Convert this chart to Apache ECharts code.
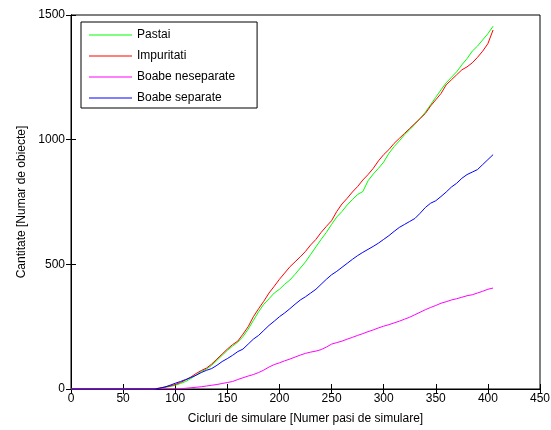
<!DOCTYPE html>
<html>
<head>
<meta charset="utf-8">
<script src="https://cdn.jsdelivr.net/npm/echarts@6/dist/echarts.min.js"></script>
<style>
  html, body { margin: 0; padding: 0; background: #fff; }
  #chart { width: 551px; height: 430px; }
</style>
</head>
<body>
<div id="chart"></div>
<script>
// simulation step (x) shared by all series
var steps = [0, 80, 85, 90, 95, 100, 105, 110, 115, 120, 125, 130, 135, 140, 145, 150, 155, 160, 165, 170,
  175, 180, 185, 190, 195, 200, 205, 210, 215, 220, 225, 230, 235, 240, 245, 250, 255, 260, 265, 270,
  275, 280, 285, 290, 295, 300, 305, 310, 315, 320, 325, 330, 335, 340, 345, 350, 355, 360, 365, 370,
  375, 380, 385, 390, 395, 400, 405];

var pastai = [0, 0, 3, 6, 10, 15, 22, 30, 42, 56, 70, 80, 95, 115, 135, 155, 172, 188, 210, 240,
  275, 310, 340, 362, 385, 400, 420, 437, 460, 485, 510, 540, 570, 600, 628, 660, 690, 712, 738, 760,
  780, 792, 835, 862, 885, 910, 945, 972, 995, 1020, 1040, 1062, 1085, 1110, 1140, 1170, 1200, 1228, 1250, 1272,
  1300, 1325, 1355, 1375, 1400, 1425, 1455];

var impuritati = [0, 0, 4, 8, 12, 18, 26, 36, 48, 62, 74, 84, 100, 120, 140, 160, 178, 192, 220, 250,
  290, 322, 352, 385, 412, 440, 465, 490, 510, 530, 552, 578, 600, 628, 652, 675, 712, 742, 765, 790,
  812, 838, 860, 885, 915, 940, 960, 985, 1005, 1025, 1045, 1065, 1085, 1105, 1135, 1160, 1185, 1220, 1240, 1260,
  1280, 1292, 1308, 1330, 1355, 1385, 1440];

var boabeNeseparate = [0, 0, 0, 0, 0, 0, 1, 3, 5, 7, 9, 12, 15, 18, 22, 26, 30, 38, 45, 52,
  58, 66, 76, 88, 98, 105, 113, 120, 128, 136, 143, 148, 152, 158, 168, 180, 186, 192, 200, 207,
  215, 222, 230, 237, 245, 252, 258, 265, 272, 280, 288, 298, 308, 318, 327, 335, 344, 350, 357, 362,
  368, 374, 378, 385, 392, 400, 405];

var boabeSeparate = [0, 0, 3, 8, 15, 23, 30, 38, 46, 55, 66, 75, 82, 95, 110, 122, 135, 150, 160, 180,
  200, 215, 235, 255, 272, 290, 305, 322, 340, 357, 370, 385, 400, 420, 440, 458, 472, 488, 504, 520,
  535, 548, 560, 572, 585, 600, 615, 632, 648, 660, 672, 684, 705, 728, 745, 755, 772, 790, 810, 825,
  845, 860, 870, 880, 900, 920, 940];

var seriesNames = ['Pastai', 'Impuritati', 'Boabe neseparate', 'Boabe separate'];
var seriesColors = ['#00ff00', '#ff0000', '#ff00ff', '#0000ff'];
var seriesValues = [pastai, impuritati, boabeNeseparate, boabeSeparate];

function pairs(vals) {
  return steps.map(function (s, i) { return [s, vals[i]]; });
}

var chart = echarts.init(document.getElementById('chart'), null, { renderer: 'canvas' });

var font = 'Liberation Sans, Arial, sans-serif';

var option = {
  animation: false,
  backgroundColor: '#fff',
  textStyle: { fontFamily: font, color: '#000' },
  grid: {
    left: 71, right: 11, top: 15, bottom: 41,
    show: true, borderColor: '#000', borderWidth: 1,
    outerBoundsMode: 'none'
  },
  legend: {
    data: seriesNames,
    orient: 'vertical',
    left: 81,
    top: 22,
    backgroundColor: '#fff',
    borderColor: '#000',
    borderWidth: 1,
    padding: [6, 22, 3, 8],
    icon: 'rect',
    itemWidth: 43,
    itemHeight: 1,
    itemGap: 7,
    textStyle: { fontFamily: font, fontSize: 12, color: '#000', lineHeight: 14 }
  },
  xAxis: [{
    type: 'value',
    min: 0, max: 450, interval: 50,
    name: 'Cicluri de simulare [Numer pasi de simulare]',
    nameLocation: 'middle',
    nameGap: 24,
    nameTextStyle: { fontFamily: font, fontSize: 12, color: '#000' },
    axisLine: { show: true, lineStyle: { color: '#000' } },
    axisTick: { inside: true, length: 5, lineStyle: { color: '#000' } },
    axisLabel: { fontFamily: font, fontSize: 12, color: '#000', margin: 4 },
    splitLine: { show: false }
  }, {
    type: 'value',
    position: 'top',
    min: 0, max: 450, interval: 50,
    axisLine: { show: true, lineStyle: { color: '#000' } },
    axisTick: { inside: true, length: 5, lineStyle: { color: '#000' } },
    axisLabel: { show: false },
    splitLine: { show: false }
  }],
  yAxis: [{
    type: 'value',
    min: 0, max: 1500, interval: 500,
    name: 'Cantitate [Numar de obiecte]',
    nameLocation: 'middle',
    nameGap: 42,
    nameTextStyle: { fontFamily: font, fontSize: 12, color: '#000' },
    axisLine: { show: true, lineStyle: { color: '#000' } },
    axisTick: { inside: true, length: 5, lineStyle: { color: '#000' } },
    axisLabel: {
      fontFamily: font, fontSize: 12, color: '#000', margin: 6,
      formatter: function (v) { return String(v); }
    },
    splitLine: { show: false }
  }, {
    type: 'value',
    position: 'right',
    min: 0, max: 1500, interval: 500,
    axisLine: { show: true, lineStyle: { color: '#000' } },
    axisTick: { inside: true, length: 5, lineStyle: { color: '#000' } },
    axisLabel: { show: false },
    splitLine: { show: false }
  }],
  series: seriesNames.map(function (name, k) {
    return {
      name: name,
      type: 'line',
      xAxisIndex: 0,
      yAxisIndex: 0,
      symbol: 'none',
      color: seriesColors[k],
      lineStyle: { width: 1, color: seriesColors[k] },
      data: pairs(seriesValues[k])
    };
  })
};

chart.setOption(option);
</script>
</body>
</html>
